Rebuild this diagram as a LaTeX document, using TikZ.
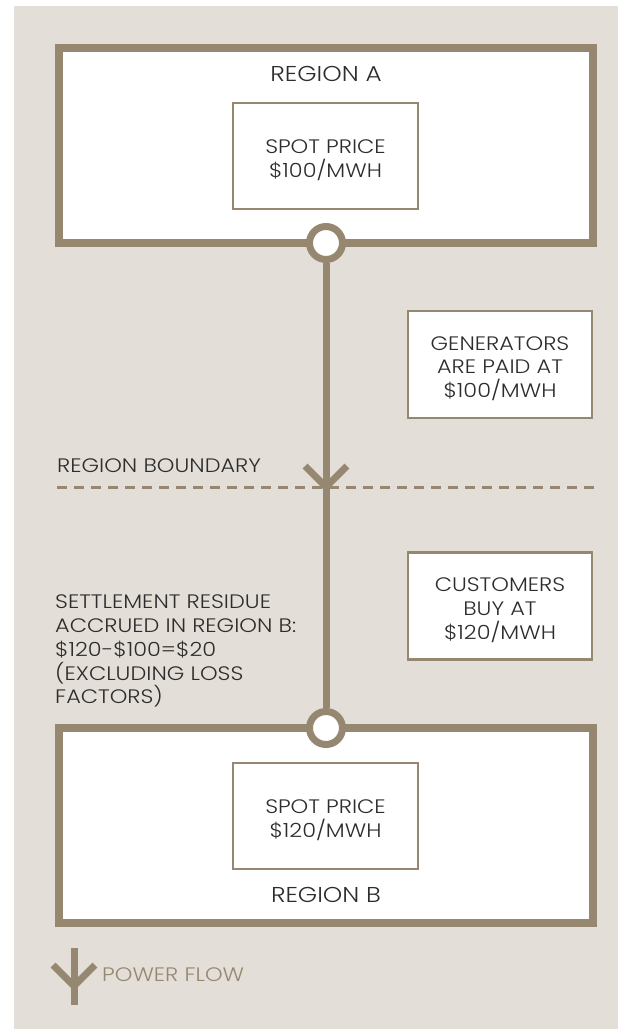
\documentclass[tikz,border=0pt]{standalone}
\usepackage{fontspec}
\setmainfont{Poppins}[UprightFont=* Light, FakeStretch=1.15]
\usetikzlibrary{calc}
\definecolor{bgc}{RGB}{227,223,216}
\definecolor{brn}{RGB}{150,135,112}
\definecolor{txt}{RGB}{45,45,45}
\newcommand{\lblfont}{\fontsize{19.5pt}{23.7pt}\selectfont}
\newcommand{\regfont}{\fontsize{21.5pt}{26pt}\selectfont}
\newcommand{\topstrut}{\rule{0pt}{22pt}}
\tikzset{
  regbox/.style={draw=brn, line width=7.5pt, fill=white, minimum width=534pt, minimum height=195pt, inner sep=0pt},
  pricebox/.style={draw=brn, line width=2.5pt, fill=white, minimum width=185pt, minimum height=106pt, align=center, font=\lblfont, text=txt, inner sep=0pt},
  ring/.style={circle, draw=brn, line width=7pt, fill=white, minimum size=33pt, inner sep=0pt},
  flow/.style={draw=brn, line width=7pt},
  lbl/.style={font=\lblfont, text=txt, inner sep=0pt},
  reglbl/.style={font=\regfont, text=txt, inner sep=0pt},
}
\begin{document}
\begin{tikzpicture}[x=1pt,y=-1pt]
\useasboundingbox (0,0) rectangle (618,1029);
\fill[bgc] (14,6) rectangle (618,1029);
% region boxes
\node[regbox] (boxA) at (326,145.5) {};
\node[regbox] (boxB) at (326,825.5) {};
\node[reglbl] (regA) at (326,74) {REGION A};
\node[reglbl] (regB) at (326,895) {REGION B};
\node[pricebox] (spotA) at (325.5,156) {\topstrut SPOT PRICE\\\$100/MWH};
\node[pricebox] (spotB) at (325.5,816) {\topstrut SPOT PRICE\\\$120/MWH};
% info boxes
\node[pricebox, minimum width=184pt, minimum height=107pt] (gen) at (500,364.5) {\topstrut GENERATORS\\ARE PAID AT\\\$100/MWH};
\node[pricebox, minimum width=184pt, minimum height=107pt] (cust) at (500,606) {\topstrut CUSTOMERS\\BUY AT\\\$120/MWH};
% boundary
\node[lbl, anchor=west] (bndlbl) at (57,466) {REGION BOUNDARY};
\coordinate (dL) at (57,487);
\coordinate (dR) at (597,487);
\draw[brn, line width=3pt, dash pattern=on 10pt off 7pt] (dL) -- (dR);
% settlement text
\node[lbl, anchor=north west, align=left] (settle) at (55,595) {SETTLEMENT RESIDUE\\ACCRUED IN REGION B:\\\$120-\$100=\$20\\(EXCLUDING LOSS\\FACTORS)};
% flow line
\node[ring] (cA) at (326,243) {};
\node[ring] (cB) at (326,728) {};
\draw[flow] (cA) -- (cB);
\coordinate (bnd) at (326,487);
\draw[flow] ($(bnd)+(-21,-21)$) -- (bnd) -- ($(bnd)+(21,-21)$);
% legend
\coordinate (lgTop) at (74,948);
\coordinate (lgBot) at (74,1005);
\coordinate (lgV) at (74,986);
\draw[flow] (lgTop) -- (lgBot);
\draw[flow] ($(lgV)+(-21,-21)$) -- (lgV) -- ($(lgV)+(21,-21)$);
\node[lbl, anchor=west, text=brn] (lg) at (102,975) {POWER FLOW};
\end{tikzpicture}
\end{document}
